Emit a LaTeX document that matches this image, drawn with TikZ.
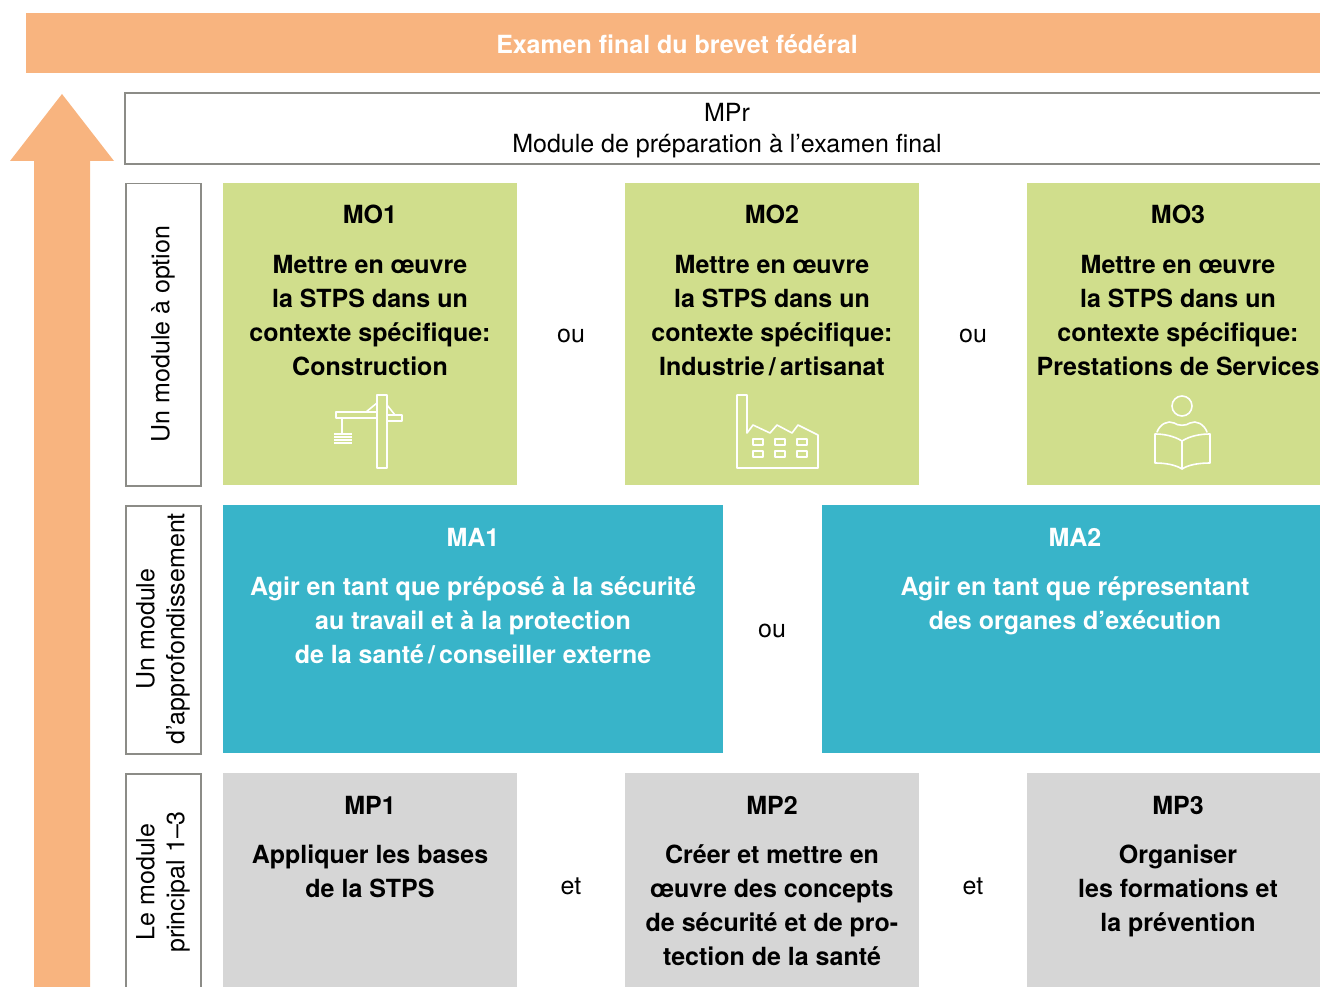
\documentclass[tikz,border=0pt]{standalone}
\usepackage{fontspec}
\setmainfont{TeX Gyre Heros}
\definecolor{orangebar}{HTML}{F8B47F}
\definecolor{greenmod}{HTML}{D0DE8C}
\definecolor{bluemod}{HTML}{38B4C9}
\definecolor{graymod}{HTML}{D6D6D6}
\definecolor{framegray}{HTML}{8C8C87}
\tikzset{
  modbox/.style={anchor=north west, inner sep=0pt, minimum height=#1},
  sidebox/.style={draw=framegray, line width=1.5pt, anchor=north west, inner sep=0pt, minimum width=75pt, minimum height=#1},
  modtitle/.style={anchor=base, inner sep=0pt, font=\fontsize{25}{34}\selectfont\bfseries},
  modtext/.style={anchor=base, inner sep=0pt, align=center, font=\fontsize{25}{34}\selectfont\bfseries},
  sidetext/.style={rotate=90, align=center, font=\fontsize{25}{30}\selectfont},
  joiner/.style={font=\fontsize{25}{30}\selectfont},
  icon/.style={draw=white, line width=1.6pt, line join=round, line cap=round}
}
\begin{document}
\begin{tikzpicture}[x=1pt,y=-1pt]
\useasboundingbox (0,0) rectangle (1320,987);
% top bar and arrow
\node[fill=orangebar, anchor=north west, inner sep=0pt, minimum width=1294pt, minimum height=60pt] (bar) at (26,13) {};
\node[text=white, font=\fontsize{25}{26}\selectfont\bfseries] (bartext) at (677,44) {Examen final du brevet fédéral};
\fill[orangebar] (62,94) -- (114,161) -- (90,161) -- (90,987) -- (34,987) -- (34,161) -- (10,161) -- cycle;
% MPr
\draw[framegray, line width=1.5pt] (1320,93) -- (125,93) -- (125,164) -- (1320,164);
\node[align=center, font=\fontsize{25}{31}\selectfont] (mpr) at (727,131) {MPr\\Module de préparation à l’examen final};
% side labels
\node[sidebox=302pt] (s1) at (125,183) {};
\node[sidebox=248pt] (s2) at (125,505) {};
\node[sidebox=230pt] (s3) at (125,773) {};
\node[sidetext] (s1t) at (163,334) {Un module à option};
\node[sidetext] (s2t) at (163,629) {Un module\\d’approfondissement};
\node[sidetext] (s3t) at (163,882) {Le module\\principal 1–3};
% row 1
\node[modbox=302pt, fill=greenmod, minimum width=294pt] (mo1) at (223,183) {};
\node[modbox=302pt, fill=greenmod, minimum width=294pt] (mo2) at (625,183) {};
\node[modbox=302pt, fill=greenmod, minimum width=294pt] (mo3) at (1027,183) {};
\node[modtitle] (mo1h) at (370,224) {MO1};
\node[modtitle] (mo2h) at (772,224) {MO2};
\node[modtitle] (mo3h) at (1178,224) {MO3};
\node[modtext] (mo1b) at (370,375) {Mettre en œuvre\\la STPS dans un\\contexte spécifique:\\Construction};
\node[modtext] (mo2b) at (772,375) {Mettre en œuvre\\la STPS dans un\\contexte spécifique:\\Industrie\,/\,artisanat};
\node[modtext] (mo3b) at (1178,375) {Mettre en œuvre\\la STPS dans un\\contexte spécifique:\\Prestations de Services};
\node[joiner] (ou1) at (571,336) {ou};
\node[joiner] (ou2) at (973,336) {ou};
% icons
\draw[icon] (377,395) rectangle (387,468);
\draw[icon] (377,412) -- (336,412) -- (336,418) -- (377,418);
\draw[icon] (387,415) -- (402,415) -- (402,421) -- (387,421);
\draw[icon] (366,412) -- (377,403) (387,405) -- (395,415);
\draw[icon] (342,418) -- (342,433);
\foreach \ly in {434,437,440,443}
  \draw[white, line width=1.4pt] (334,\ly) -- (352,\ly);
\draw[icon] (737,468) -- (737,395) -- (747,395) -- (747,433) -- (753,425) -- (770,433) -- (777,425)
  -- (792,433) -- (798,425) -- (818,435) -- (818,468) -- cycle;
\foreach \wx in {753,775,797}
  \foreach \wy in {439,451}
    \draw[icon] (\wx,\wy) rectangle ++(10,6);
\draw[icon] (1182,406) circle[radius=10];
\draw[icon] (1157,432) .. controls (1160,424) and (1168,420) .. (1174,423) .. controls (1178,426) and (1186,426) .. (1190,423) .. controls (1196,420) and (1204,424) .. (1207,432);
\draw[icon] (1182,441) .. controls (1174,436) and (1164,434) .. (1155,434) -- (1155,463) .. controls (1166,463) and (1176,465) .. (1182,469) -- cycle;
\draw[icon] (1182,441) .. controls (1190,436) and (1200,434) .. (1210,434) -- (1210,463) .. controls (1198,463) and (1188,465) .. (1182,469);
% row 2
\node[modbox=248pt, fill=bluemod, minimum width=500pt] (ma1) at (223,505) {};
\node[modbox=248pt, fill=bluemod, minimum width=498pt] (ma2) at (822,505) {};
\node[modtitle, text=white] (ma1h) at (473,546) {MA1};
\node[modtitle, text=white] (ma2h) at (1075,546) {MA2};
\node[modtext, text=white] (ma1b) at (473,663) {Agir en tant que préposé à la sécurité\\au travail et à la protection\\de la santé\,/\,conseiller externe};
\node[modtext, text=white] (ma2b) at (1075,629) {Agir en tant que répresentant\\des organes d’exécution};
\node[joiner] (ou3) at (772,631) {ou};
% row 3
\node[modbox=230pt, fill=graymod, minimum width=294pt] (mp1) at (223,773) {};
\node[modbox=230pt, fill=graymod, minimum width=294pt] (mp2) at (625,773) {};
\node[modbox=230pt, fill=graymod, minimum width=294pt] (mp3) at (1027,773) {};
\node[modtitle] (mp1h) at (370,814) {MP1};
\node[modtitle] (mp2h) at (772,814) {MP2};
\node[modtitle] (mp3h) at (1178,814) {MP3};
\node[modtext] (mp1b) at (370,897) {Appliquer les bases\\de la STPS};
\node[modtext] (mp2b) at (772,965) {Créer et mettre en\\œuvre des concepts\\de sécurité et de pro-\\tection de la santé};
\node[modtext] (mp3b) at (1178,931) {Organiser\\les formations et\\la prévention};
\node[joiner] (et1) at (571,886) {et};
\node[joiner] (et2) at (973,886) {et};
\end{tikzpicture}
\end{document}
